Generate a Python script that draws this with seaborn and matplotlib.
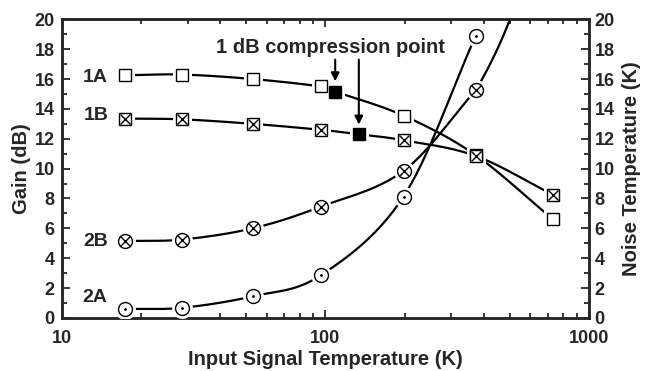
import numpy as np
import matplotlib
matplotlib.use("Agg")
import matplotlib.pyplot as plt
import seaborn as sns

# input signal temperature (K)
x_gain = [17.4, 28.6, 53, 96, 198, 372, 730]
x_noise = [17.4, 28.6, 53, 96, 198, 372]

gain_1a = [16.25, 16.3, 16.0, 15.5, 13.55, 10.9, 6.6]
gain_1b = [13.35, 13.3, 13.0, 12.6, 11.9, 10.85, 8.25]
noise_2b = [5.15, 5.25, 6.0, 7.45, 9.85, 15.25]
noise_2a = [0.6, 0.68, 1.45, 2.85, 8.13, 18.9]

# 1 dB compression points
comp_x = [109, 134]
comp_y = [15.15, 12.3]

sns.set_style("ticks")
plt.rcParams['font.family'] = ['Liberation Sans', 'DejaVu Sans']
plt.rcParams['font.weight'] = 'bold'


def catmull(x, y, n=30):
    """smooth curve through points, in log-x space"""
    lx = np.log10(x)
    y = np.asarray(y, float)
    px = np.concatenate([[2 * lx[0] - lx[1]], lx, [2 * lx[-1] - lx[-2]]])
    py = np.concatenate([[2 * y[0] - y[1]], y, [2 * y[-1] - y[-2]]])
    ox, oy = [], []
    t = np.linspace(0, 1, n)
    for i in range(1, len(px) - 2):
        for p, out in ((px, ox), (py, oy)):
            p0, p1, p2, p3 = p[i - 1], p[i], p[i + 1], p[i + 2]
            out.extend(0.5 * (2 * p1 + (-p0 + p2) * t
                              + (2 * p0 - 5 * p1 + 4 * p2 - p3) * t ** 2
                              + (-p0 + 3 * p1 - 3 * p2 + p3) * t ** 3))
    return 10 ** np.array(ox), np.array(oy)


def tail(x, y, x_end):
    """extend the fitted curve past the last point (log-log quadratic)"""
    c = np.polyfit(np.log10(x[-3:]), np.log10(y[-3:]), 2)
    xs = np.logspace(np.log10(x[-1]), np.log10(x_end), 30)
    return xs, 10 ** np.polyval(c, np.log10(xs))


fig, ax = plt.subplots(figsize=(6.5, 3.71), dpi=100)
fig.subplots_adjust(left=0.095, right=0.906, bottom=0.143, top=0.948)
ax2 = ax.twinx()

lw = 1.6
# gain curves include the compression point in the line
xa = sorted(x_gain + [comp_x[0]])
ya = gain_1a[:4] + [comp_y[0]] + gain_1a[4:]
xb = sorted(x_gain + [comp_x[1]])
yb = gain_1b[:4] + [comp_y[1]] + gain_1b[4:]

for xx, yy in ((xa, ya), (xb, yb)):
    cx, cy = catmull(xx, yy)
    sns.lineplot(x=cx, y=cy, ax=ax, color='black', lw=lw, sort=False, zorder=2)

for yy, ext in ((noise_2b, 520), (noise_2a, None)):
    cx, cy = catmull(x_noise, yy)
    sns.lineplot(x=cx, y=cy, ax=ax2, color='black', lw=lw, sort=False, zorder=2)
    if ext:
        tx, ty = tail(x_noise, yy, ext)
        sns.lineplot(x=tx, y=ty, ax=ax2, color='black', lw=lw, sort=False, zorder=2)

ms_sq, ms_c = 8.5, 10

def halo(a, x, y, m, ms):
    a.plot(x, y, m, ms=ms, mfc='white', mec='white', mew=5, zorder=3)

# 1A open squares
halo(ax, x_gain, gain_1a, 's', ms_sq)
ax.plot(x_gain, gain_1a, 's', ms=ms_sq, mfc='white', mec='black', mew=1.0, zorder=4)
# 1B crossed squares
halo(ax, x_gain, gain_1b, 's', ms_sq)
ax.plot(x_gain, gain_1b, 's', ms=ms_sq, mfc='white', mec='black', mew=1.0, zorder=4)
ax.plot(x_gain, gain_1b, 'x', ms=ms_sq * 0.8, mec='black', mew=1.0, zorder=5)
# compression points
halo(ax, comp_x, comp_y, 's', ms_sq)
ax.plot(comp_x, comp_y, 's', ms=ms_sq, mfc='black', mec='black', zorder=4)
# 2B crossed circles
halo(ax2, x_noise, noise_2b, 'o', ms_c)
ax2.plot(x_noise, noise_2b, 'o', ms=ms_c, mfc='white', mec='black', mew=1.0, zorder=4)
ax2.plot(x_noise, noise_2b, 'x', ms=ms_c * 0.7, mec='black', mew=1.0, zorder=5)
# 2A dotted circles
halo(ax2, x_noise, noise_2a, 'o', ms_c)
ax2.plot(x_noise, noise_2a, 'o', ms=ms_c, mfc='white', mec='black', mew=1.0, zorder=4)
ax2.plot(x_noise, noise_2a, '.', ms=2, color='black', zorder=5)

for a in (ax, ax2):
    a.set_xscale('log')
    a.set_xlim(10, 1000)
    a.set_ylim(0, 20)
    a.set_yticks(np.arange(0, 21, 2))
    a.set_yticks(np.arange(1, 20, 2), minor=True)
    a.tick_params(which='both', direction='in', labelsize=13, width=1.3)
    a.tick_params(which='major', length=6)
    a.tick_params(which='minor', length=3.5)
    for s in a.spines.values():
        s.set_linewidth(1.8)

ax.tick_params(axis='x', which='both', top=True)
ax.set_xticks([10, 100, 1000])
ax.set_xticklabels(['10', '100', '1000'])
ax.tick_params(axis='x', pad=9)
ax.tick_params(axis='y', pad=5)
ax2.tick_params(axis='y', pad=4)

ax.set_xlabel('Input Signal Temperature (K)', fontsize=14.5, fontweight='bold', labelpad=2)
ax.set_ylabel('Gain (dB)', fontsize=14.5, fontweight='bold', labelpad=3)
ax2.set_ylabel('Noise Temperature (K)', fontsize=14.5, fontweight='bold', labelpad=5)

for lab, lx, ly in (('1A', 13.4, 16.1), ('1B', 13.5, 13.55), ('2B', 13.5, 5.1), ('2A', 13.4, 1.4)):
    ax.text(lx, ly, lab, fontsize=14, fontweight='bold', ha='center', va='center')

ax.text(105, 18.1, '1 dB compression point', fontsize=14.5, fontweight='bold',
        ha='center', va='center')
arrow = dict(arrowstyle='-|>', color='black', lw=1.5, mutation_scale=12, shrinkA=0, shrinkB=0)
ax.annotate('', xy=(comp_x[0], 15.85), xytext=(comp_x[0], 17.3), arrowprops=arrow)
ax.annotate('', xy=(comp_x[1], 12.95), xytext=(comp_x[1], 17.3), arrowprops=arrow)

plt.savefig('out.png', dpi=100)
